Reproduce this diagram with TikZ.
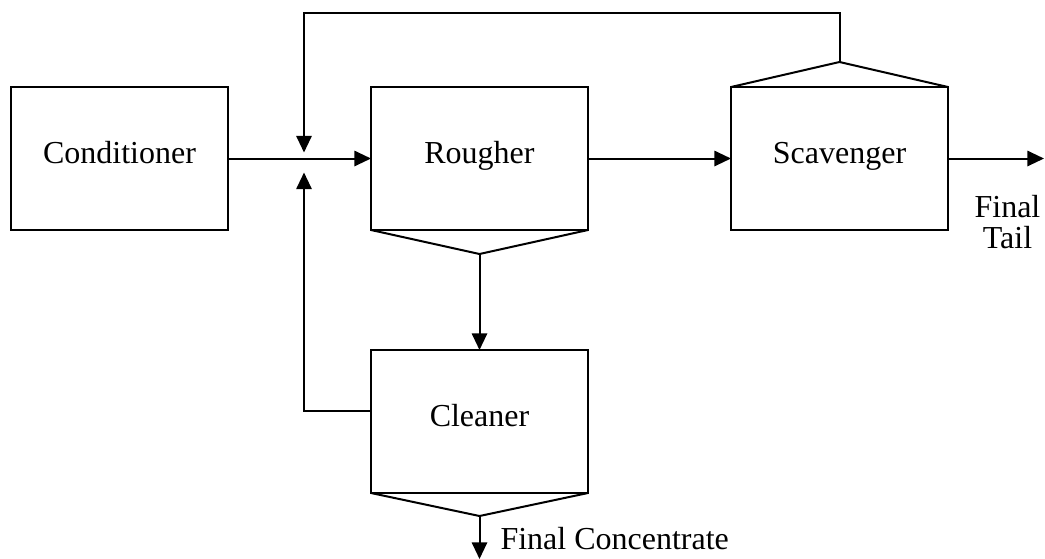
\documentclass[tikz,border=0pt]{standalone}
\usepackage{fontspec}
\setmainfont{Liberation Serif}
\usetikzlibrary{arrows.meta, positioning}

\begin{document}
\begin{tikzpicture}[
    x=0.75pt, y=-0.75pt,
    line width=1.5pt,
    node distance=107.25pt,
    cell/.style={draw, minimum width=162.75pt, minimum height=107.25pt, inner sep=0pt, outer sep=0pt,
        font=\fontsize{24}{21.5}\selectfont, text height=17pt, text depth=9pt},
    tag/.style={font=\fontsize{24}{23.5}\selectfont, inner sep=0pt},
    flow/.style={-{Triangle[length=12.5pt, width=11.5pt]}}
]
\useasboundingbox (0,0) rectangle (1045,558);

% Cells
\node[cell] (cond) at (119.5,158.5) {Conditioner};
\node[cell, right=of cond] (rough) {Rougher};
\node[cell, right=of rough] (scav) {Scavenger};
\node[cell, below=90pt of rough] (clean) {Cleaner};

% Launders
\coordinate[below=18pt of rough] (rapex);
\coordinate[above=18.75pt of scav] (sapex);
\coordinate[below=17.25pt of clean] (capex);
\draw (rough.south west) -- (rapex) -- (rough.south east);
\draw (scav.north west) -- (sapex) -- (scav.north east);
\draw (clean.south west) -- (capex) -- (clean.south east);

% Junction and free ends
\coordinate[right=57pt of cond] (mix);
\coordinate[above=4.5pt of mix] (mixtop);
\coordinate[below=10.5pt of mix] (mixbot);
\coordinate[above=109.5pt of mix] (recyc);
\coordinate[right=72pt of scav] (tailend);
\coordinate[below=32.25pt of capex] (concend);

% Streams
\draw[flow] (cond) -- (rough);
\draw[flow] (rough) -- (scav);
\draw[flow] (scav) -- (tailend);
\draw[flow] (rapex) -- (clean);
\draw[flow] (sapex) |- (recyc) -- (mixtop);
\draw[flow] ([yshift=8.25pt]clean.west) -| (mixbot);
\draw[flow] (capex) -- (concend);

% Labels
\node[tag, anchor=base west] (conc) at ([xshift=15pt, yshift=-24.75pt]capex) {Final Concentrate};
\node[tag, align=center, anchor=north] (tail) at ([xshift=-27.4pt, yshift=-26.75pt]tailend) {Final\\Tail};
\end{tikzpicture}
\end{document}
